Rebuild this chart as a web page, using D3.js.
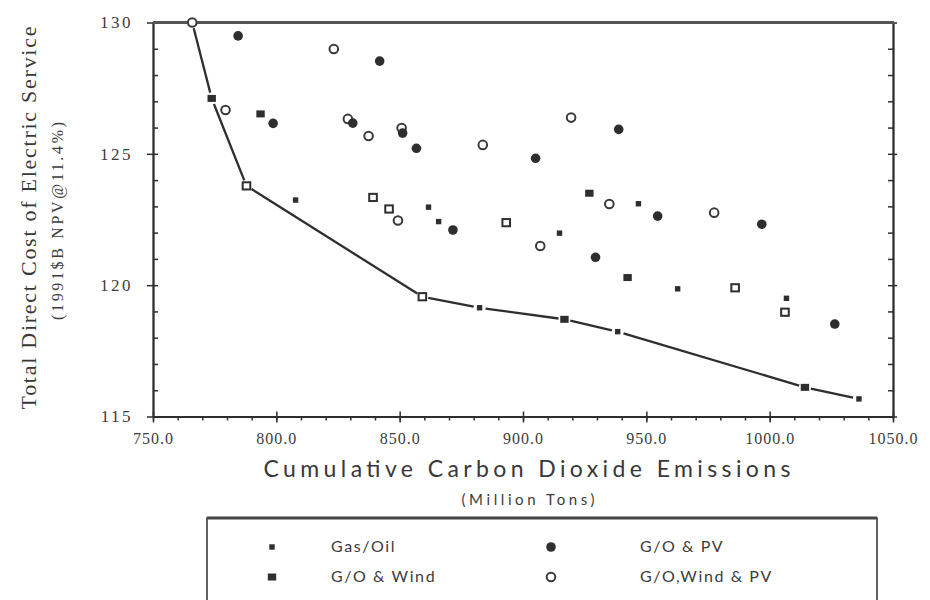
<!DOCTYPE html>
<html>
<head>
<meta charset="utf-8">
<script src="https://cdn.jsdelivr.net/npm/d3@7/dist/d3.min.js"></script>
<style>
  html, body { margin: 0; padding: 0; background: #fff; }
  svg { display: block; }
</style>
</head>
<body>
<svg id="chart" width="930" height="600"></svg>
<script>
// ---- Data ----
const xMajorTicks = [750, 800, 850, 900, 950, 1000, 1050];
const yMajorTicks = [115, 120, 125, 130];

const seriesNames = ["Gas/Oil", "G/O & Wind", "G/O & PV", "G/O,Wind & PV"];

// Gas/Oil (small filled squares)
const gasOilX = [807.8, 861.7, 865.8, 882.4, 914.8, 938.4, 946.8, 962.7, 1006.8, 1036.2];
const gasOilY = [123.24, 122.97, 122.42, 119.14, 121.98, 118.23, 123.10, 119.86, 119.50, 115.67];

// G/O & Wind (filled squares)
const goWindX = [773.8, 793.6, 926.9, 942.4, 916.8, 1014.3];
const goWindY = [127.11, 126.52, 123.50, 120.29, 118.70, 116.11];

// G/O & Wind (points printed as hollow squares)
const goWindHollowX = [787.9, 839.2, 845.7, 859.2, 893.2, 986.0, 1006.2];
const goWindHollowY = [123.78, 123.34, 122.90, 119.56, 122.38, 119.90, 118.97];

// G/O & PV (filled circles)
const goPVX = [784.5, 798.7, 841.9, 831.0, 851.2, 856.8, 871.6, 905.1, 938.8, 929.4, 954.6, 996.8, 1026.4];
const goPVY = [129.49, 126.16, 128.53, 126.17, 125.79, 125.21, 122.10, 124.83, 125.93, 121.06, 122.63, 122.32, 118.52];

// G/O,Wind & PV (open circles)
const goWindPVX = [765.9, 779.4, 823.3, 829.0, 837.4, 850.8, 849.3, 883.7, 907.0, 919.5, 935.0, 977.5];
const goWindPVY = [130.0, 126.67, 128.99, 126.33, 125.68, 125.98, 122.46, 125.34, 121.49, 126.38, 123.09, 122.76];

// Efficient frontier (line)
const frontierX = [765.9, 773.8, 787.9, 859.2, 882.4, 916.8, 938.4, 1014.3, 1036.2];
const frontierY = [130.0, 127.11, 123.78, 119.56, 119.14, 118.70, 118.23, 116.11, 115.67];

// ---- Layout ----
const svg = d3.select("#chart");
const L = 153, R = 893, T = 22.5, B = 416.5;
const ink = "#2e2e2e";
const textInk = "#3c3c3c";
const serif = "'Liberation Serif', 'DejaVu Serif', serif";
const sans = "Lato, 'Open Sans', sans-serif";

const x = d3.scaleLinear().domain([750, 1050]).range([L, R]);
const y = d3.scaleLinear().domain([115, 130]).range([B, T]);

const xMinor = d3.range(750, 1051, 10);
const yMinor = d3.range(115, 130.01, 1);

function styleAxis(g, size, spacing) {
  g.select(".domain").attr("stroke", ink).attr("stroke-width", 1.8);
  g.selectAll(".tick line").attr("stroke", ink).attr("stroke-width", 1.5);
  g.selectAll(".tick text")
    .attr("fill", textInk)
    .style("font-family", serif)
    .style("font-size", (size || 15) + "px")
    .style("letter-spacing", (spacing == null ? 1 : spacing) + "px");
}

// bottom axis: minor ticks outside, major crossing
svg.append("g").attr("transform", `translate(0,${B})`)
  .call(d3.axisBottom(x).tickValues(xMinor).tickSize(4).tickSizeOuter(0).tickFormat(""))
  .call(styleAxis);
svg.append("g").attr("transform", `translate(0,${B})`)
  .call(d3.axisBottom(x).tickValues(xMajorTicks).tickSize(6).tickSizeOuter(0).tickPadding(10).tickFormat(d3.format(".1f")))
  .call(g => styleAxis(g, 16, 1));
svg.append("g").attr("transform", `translate(0,${B})`)
  .call(d3.axisTop(x).tickValues(xMajorTicks).tickSize(5).tickSizeOuter(0).tickFormat(""))
  .call(styleAxis);

// left axis: minor ticks inside, major crossing with labels
svg.append("g").attr("transform", `translate(${L},0)`)
  .call(d3.axisRight(y).tickValues(yMinor).tickSize(5).tickSizeOuter(0).tickFormat(""))
  .call(styleAxis);
svg.append("g").attr("transform", `translate(${L},0)`)
  .call(d3.axisLeft(y).tickValues(yMajorTicks).tickSize(6).tickSizeOuter(0).tickPadding(14).tickFormat(d3.format("d")))
  .call(g => styleAxis(g, 17, 2.5));

// right axis: ticks inside, major crossing
svg.append("g").attr("transform", `translate(${R},0)`)
  .call(d3.axisLeft(y).tickValues(yMinor).tickSize(5).tickSizeOuter(0).tickFormat(""))
  .call(styleAxis);
svg.append("g").attr("transform", `translate(${R},0)`)
  .call(d3.axisRight(y).tickValues(yMajorTicks).tickSize(4).tickSizeOuter(0).tickFormat(""))
  .call(styleAxis);

// top border (heavy)
svg.append("line").attr("x1", L).attr("x2", R + 1).attr("y1", T).attr("y2", T)
  .attr("stroke", "#555").attr("stroke-width", 3);

// ---- Frontier line with gaps around markers ----
const gap = 6;
const fpts = frontierX.map((v, i) => [x(v), y(frontierY[i])]);
for (let i = 0; i < fpts.length - 1; i++) {
  const [x1, y1] = fpts[i], [x2, y2] = fpts[i + 1];
  const len = Math.hypot(x2 - x1, y2 - y1);
  const ux = (x2 - x1) / len, uy = (y2 - y1) / len;
  svg.append("line")
    .attr("x1", x1 + ux * gap).attr("y1", y1 + uy * gap)
    .attr("x2", x2 - ux * gap).attr("y2", y2 - uy * gap)
    .attr("stroke", ink).attr("stroke-width", 2.3);
}

// ---- Markers ----
function drawMarker(g, type, cx, cy) {
  if (type === "gasOil") {
    g.append("rect").attr("x", cx - 2.7).attr("y", cy - 2.7).attr("width", 5.4).attr("height", 5.4)
      .attr("fill", ink);
  } else if (type === "goWind") {
    g.append("rect").attr("x", cx - 4.2).attr("y", cy - 3.5).attr("width", 8.4).attr("height", 7)
      .attr("fill", ink);
  } else if (type === "goWindHollow") {
    g.append("rect").attr("x", cx - 3.8).attr("y", cy - 3.6).attr("width", 7.6).attr("height", 7.2)
      .attr("fill", "#fff").attr("stroke", ink).attr("stroke-width", 2);
  } else if (type === "goPV") {
    g.append("circle").attr("cx", cx).attr("cy", cy).attr("r", 4.8).attr("fill", ink);
  } else if (type === "goWindPV") {
    g.append("circle").attr("cx", cx).attr("cy", cy).attr("r", 4.3)
      .attr("fill", "#fff").attr("stroke", "#3a3a3a").attr("stroke-width", 2);
  }
}

const marks = svg.append("g");
const sets = [
  ["goWindPV", goWindPVX, goWindPVY],
  ["goPV", goPVX, goPVY],
  ["goWindHollow", goWindHollowX, goWindHollowY],
  ["goWind", goWindX, goWindY],
  ["gasOil", gasOilX, gasOilY]
];
sets.forEach(([type, xs, ys]) => {
  xs.forEach((v, i) => drawMarker(marks, type, x(v), y(ys[i])));
});

// ---- Axis titles ----
svg.append("text")
  .attr("x", (L + R) / 2 + 4).attr("y", 477)
  .attr("text-anchor", "middle")
  .attr("fill", "#383838")
  .style("font-family", sans)
  .style("font-size", "23px")
  .attr("textLength", 527).attr("lengthAdjust", "spacing")
  .text("Cumulative Carbon Dioxide Emissions");

svg.append("text")
  .attr("x", (L + R) / 2 + 5).attr("y", 505)
  .attr("text-anchor", "middle")
  .attr("fill", textInk)
  .style("font-family", sans)
  .style("font-size", "15px")
  .attr("textLength", 133).attr("lengthAdjust", "spacing")
  .text("(Million Tons)");

svg.append("text")
  .attr("transform", "translate(36,218) rotate(-90)")
  .attr("text-anchor", "middle")
  .attr("fill", "#383838")
  .style("font-family", serif)
  .style("font-size", "22px")
  .attr("textLength", 383).attr("lengthAdjust", "spacing")
  .text("Total Direct Cost of Electric Service");

svg.append("text")
  .attr("transform", "translate(63,221) rotate(-90)")
  .attr("text-anchor", "middle")
  .attr("fill", textInk)
  .style("font-family", serif)
  .style("font-size", "16px")
  .attr("textLength", 198).attr("lengthAdjust", "spacing")
  .text("(1991$B NPV@11.4%)");

// ---- Legend ----
const lg = svg.append("g");
lg.append("rect").attr("x", 207).attr("y", 518).attr("width", 670).attr("height", 90)
  .attr("fill", "none").attr("stroke", ink).attr("stroke-width", 1.5);
lg.append("line").attr("x1", 207).attr("x2", 877).attr("y1", 518).attr("y2", 518)
  .attr("stroke", "#444").attr("stroke-width", 3);

const legendTypes = ["gasOil", "goWind", "goPV", "goWindPV"];
const legendPos = [[272, 331, 547], [272, 331, 577], [551, 640, 547], [551, 640, 577]];
seriesNames.forEach((name, i) => {
  const [mx, tx, ly] = legendPos[i];
  drawMarker(lg, legendTypes[i], mx, ly);
  lg.append("text").attr("x", tx).attr("y", ly + 5)
    .attr("fill", textInk)
    .style("font-family", sans)
    .style("font-size", "16px")
    .style("letter-spacing", "1.6px")
    .text(name);
});
</script>
</body>
</html>
